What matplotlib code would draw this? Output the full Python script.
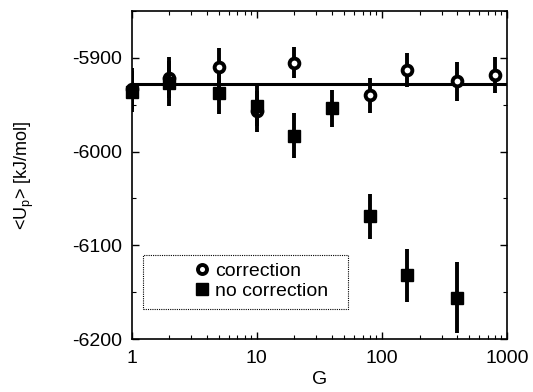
import matplotlib
matplotlib.use("Agg")
import matplotlib.pyplot as plt
from matplotlib.lines import Line2D
from matplotlib.patches import Rectangle
from matplotlib.ticker import FixedLocator, MultipleLocator, NullFormatter

plt.rcParams['font.family'] = ['Liberation Sans', 'DejaVu Sans']
plt.rcParams['axes.unicode_minus'] = False

# Data
g_corr = [1, 2, 5, 10, 20, 80, 160, 400, 800]
u_corr = [-5933, -5921, -5910, -5957, -5905, -5940, -5913, -5925, -5918]
e_corr = [22, 22, 21, 22, 17, 19, 18, 21, 19]

g_nocorr = [1, 2, 5, 10, 20, 40, 80, 160, 400]
u_nocorr = [-5936, -5927, -5938, -5951, -5983, -5954, -6069, -6132, -6156]
e_nocorr = [22, 24, 22, 22, 24, 20, 24, 28, 38]

ref_level = -5928
x_limits = [1, 1000]
y_ticks = [-6200, -6100, -6000, -5900]
x_ticks = [1, 10, 100, 1000]
x_ticklabels = ['1', '10', '100', '1000']
labels = ['correction', 'no correction']

fig = plt.figure(figsize=(5.33, 3.92), dpi=100)
ax = fig.add_axes([131.7 / 533, (392 - 339) / 392, (507 - 131.7) / 533, (339 - 11) / 392])

ax.plot(x_limits, [ref_level, ref_level], color='black', lw=2.2, zorder=2)

eb1 = ax.errorbar(g_corr, u_corr, yerr=e_corr, fmt='o', color='black', mfc='white',
                  mec='black', ms=7, mew=2.8, elinewidth=2.8, capsize=0, zorder=3)
eb2 = ax.errorbar(g_nocorr, u_nocorr, yerr=e_nocorr, fmt='s', color='black', ms=8.5,
                  elinewidth=2.8, capsize=0, zorder=4)
for eb in (eb1, eb2):
    eb[0].set_clip_on(False)

ax.set_xscale('log')
ax.set_xlim(1, 1000)
ax.set_ylim(-6200, -5850)
ax.xaxis.set_major_locator(FixedLocator(x_ticks))
ax.set_xticklabels(x_ticklabels)
ax.xaxis.set_minor_formatter(NullFormatter())
ax.yaxis.set_major_locator(FixedLocator(y_ticks))
ax.yaxis.set_minor_locator(MultipleLocator(50))

ax.tick_params(which='both', direction='in', top=True, right=True, labelsize=14)
ax.tick_params(which='major', length=5, width=1)
ax.tick_params(which='minor', length=3, width=0.8)
ax.tick_params(axis='y', pad=7)
ax.tick_params(axis='x', pad=8)
for s in ax.spines.values():
    s.set_linewidth(1.2)

ax.set_xlabel('G', fontsize=14, labelpad=3)
ax.set_ylabel(r'<U$_\mathregular{p}$> [kJ/mol]', fontsize=13, labelpad=26)

# Legend frame (dotted)
ax.add_patch(Rectangle((0.030, 0.0915), 0.546, 0.165, transform=ax.transAxes,
                       fill=False, edgecolor='black', lw=0.8, linestyle=(0, (1, 1)),
                       zorder=5))
handles = [
    Line2D([], [], marker='o', ls='none', color='black', mfc='white', mec='black', ms=6.5, mew=2.8),
    Line2D([], [], marker='s', ls='none', color='black', ms=8),
]
ax.legend(handles, labels, loc='center left', bbox_to_anchor=(0.166, 0.177),
          frameon=False, fontsize=14, handlelength=0.8, handletextpad=0.3,
          borderpad=0, labelspacing=0.1, borderaxespad=0)

fig.savefig('out.png', dpi=100)
